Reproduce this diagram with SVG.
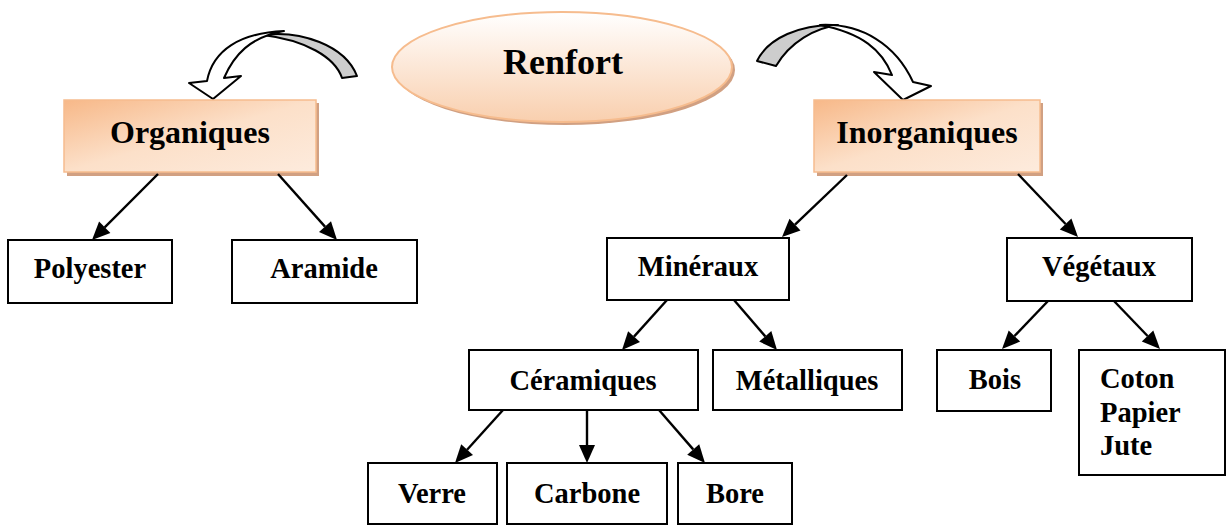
<svg xmlns="http://www.w3.org/2000/svg" width="1228" height="525" viewBox="0 0 1228 525">
<defs>
<style>
.t{font-family:"Liberation Serif","Times New Roman",serif;font-weight:bold;fill:#000;text-anchor:middle}
.leaf{fill:#fff;stroke:#000;stroke-width:2}
.hdr{fill:url(#hg);stroke:#F6BC8E;stroke-width:1.5}
.sh{fill:#D1A082}
.c{stroke:#000;stroke-width:2.4;fill:none}
.ah{fill:#000;stroke:none}
.cw{fill:#fff;stroke:#000;stroke-width:2;stroke-linejoin:round}
.cg{fill:#CDCDCD;stroke:#000;stroke-width:2;stroke-linejoin:round}
</style>
<linearGradient id="hg" x1="0" y1="0" x2="1" y2="1">
<stop offset="0" stop-color="#F7B888"/>
<stop offset="0.5" stop-color="#FCE0C9"/>
<stop offset="1" stop-color="#FDEBDD"/>
</linearGradient>
<linearGradient id="eg" x1="0" y1="0" x2="0" y2="1">
<stop offset="0" stop-color="#FFFFFF"/>
<stop offset="1" stop-color="#F9CFAE"/>
</linearGradient>
</defs>

<g id="curved-arrows">
<path class="cg" d="M263,35 C300,30 345,45 357,76 L342,78 C335,57 305,40 263,35 Z"/>
<path class="cw" d="M207,81 C213,50 240,33 284,31 C250,37 234,55 224,78 L241,76 L213,99 L189,83 Z"/>
<path class="cg" d="M757,61 C768,38 800,24 838,25 C815,28 790,42 776,66 Z"/>
<path class="cw" d="M820,25 C862,23 896,45 913,82 L931,86 L903,100 L874,72 L892,75 C882,50 862,33 820,25 Z"/>
</g>

<g id="renfort">
<ellipse cx="565" cy="70" rx="170" ry="55" fill="#D1A082"/>
<ellipse cx="562" cy="67" rx="170" ry="55" fill="url(#eg)" stroke="#F6BC8E" stroke-width="2"/>
<text class="t" x="563" y="74" font-size="36">Renfort</text>
</g>

<g id="organiques">
<rect class="sh" x="67" y="103" width="252" height="73"/>
<rect class="hdr" x="64" y="100" width="252" height="72"/>
<text class="t" x="190" y="143" font-size="32">Organiques</text>
</g>

<g id="inorganiques">
<rect class="sh" x="817" y="103" width="226" height="73"/>
<rect class="hdr" x="814" y="100" width="226" height="72"/>
<text class="t" x="927" y="143" font-size="32">Inorganiques</text>
</g>

<g id="polyester">
<rect class="leaf" x="8" y="240" width="164" height="63"/>
<text class="t" x="90" y="278" font-size="28.5">Polyester</text>
</g>
<g id="aramide">
<rect class="leaf" x="232" y="240" width="185" height="63"/>
<text class="t" x="324" y="278" font-size="28.5">Aramide</text>
</g>
<g id="mineraux">
<rect class="leaf" x="607" y="238" width="182" height="62"/>
<text class="t" x="698" y="276" font-size="28.5">Minéraux</text>
</g>
<g id="vegetaux">
<rect class="leaf" x="1007" y="238" width="185" height="63"/>
<text class="t" x="1099" y="276" font-size="28.5">Végétaux</text>
</g>
<g id="ceramiques">
<rect class="leaf" x="469" y="350" width="229" height="60"/>
<text class="t" x="583" y="390" font-size="28.5">Céramiques</text>
</g>
<g id="metalliques">
<rect class="leaf" x="713" y="350" width="189" height="60"/>
<text class="t" x="807" y="390" font-size="28.5">Métalliques</text>
</g>
<g id="bois">
<rect class="leaf" x="937" y="350" width="114" height="61"/>
<text class="t" x="995" y="389" font-size="28.5">Bois</text>
</g>
<g id="coton">
<rect class="leaf" x="1079" y="350" width="146" height="125"/>
<text class="t" x="1100" y="388" font-size="28.5" style="text-anchor:start">Coton</text>
<text class="t" x="1100" y="422" font-size="28.5" style="text-anchor:start">Papier</text>
<text class="t" x="1100" y="455" font-size="28.5" style="text-anchor:start">Jute</text>
</g>
<g id="verre">
<rect class="leaf" x="368" y="463" width="129" height="61"/>
<text class="t" x="432" y="503" font-size="28.5">Verre</text>
</g>
<g id="carbone">
<rect class="leaf" x="507" y="463" width="160" height="61"/>
<text class="t" x="587" y="503" font-size="28.5">Carbone</text>
</g>
<g id="bore">
<rect class="leaf" x="678" y="463" width="114" height="61"/>
<text class="t" x="735" y="503" font-size="28.5">Bore</text>
</g>

<g id="connectors">
<line class="c" x1="158" y1="174" x2="104.7" y2="227.3"/>
<polygon class="ah" points="92,240 110.4,232.9 99.1,221.6"/>
<line class="c" x1="278" y1="174" x2="325" y2="226.6"/>
<polygon class="ah" points="337,240 319,231.9 331,221.3"/>
<line class="c" x1="847" y1="175" x2="795" y2="224.6"/>
<polygon class="ah" points="782,237 800.5,230.4 789.5,218.8"/>
<line class="c" x1="1018" y1="174" x2="1065.6" y2="224"/>
<polygon class="ah" points="1078,237 1059.8,229.5 1071.4,218.5"/>
<line class="c" x1="667" y1="300" x2="634" y2="336.6"/>
<polygon class="ah" points="622,350 640,342 628.1,331.3"/>
<line class="c" x1="734" y1="300" x2="765.3" y2="336.4"/>
<polygon class="ah" points="777,350 759.2,341.6 771.3,331.1"/>
<line class="c" x1="1048" y1="301" x2="1014.5" y2="336"/>
<polygon class="ah" points="1002,349 1020.2,341.5 1008.7,330.5"/>
<line class="c" x1="1114" y1="301" x2="1147.6" y2="336"/>
<polygon class="ah" points="1160,349 1141.8,341.5 1153.3,330.5"/>
<line class="c" x1="503" y1="410" x2="467.1" y2="449.7"/>
<polygon class="ah" points="455,463 473,455 461.2,444.3"/>
<line class="c" x1="587" y1="410" x2="587" y2="445"/>
<polygon class="ah" points="587,463 579,445 595,445"/>
<line class="c" x1="659" y1="410" x2="693.2" y2="449.4"/>
<polygon class="ah" points="705,463 687.2,454.7 699.2,444.2"/>
</g>
</svg>
